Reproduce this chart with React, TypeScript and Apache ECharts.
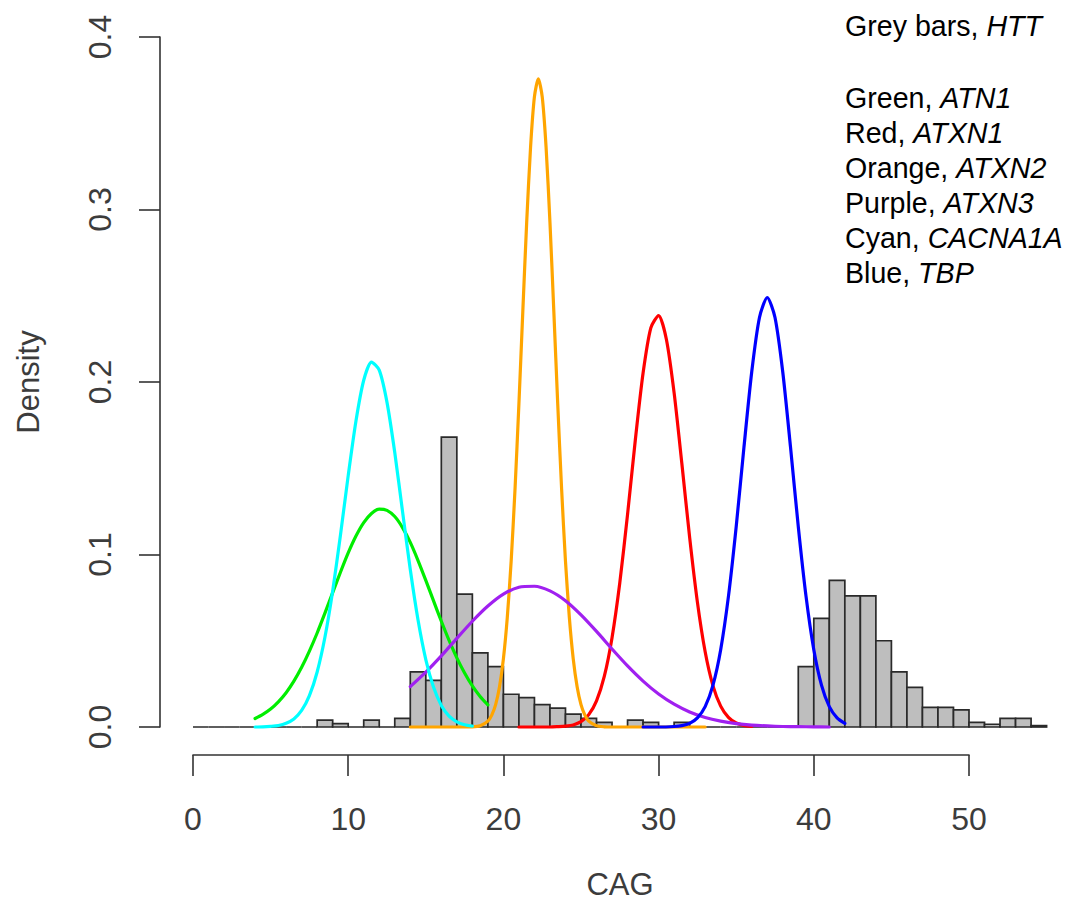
import React, { useEffect, useRef } from "react";
import * as echarts from "echarts";

// HTT histogram (grey bars): bin edges and densities
const httBreaks = [0,1,2,3,4,5,6,7,8,9,10,11,12,13,14,15,16,17,18,19,20,21,22,23,24,25,26,27,28,29,30,31,32,33,34,35,36,37,38,39,40,41,42,43,44,45,46,47,48,49,50,51,52,53,54,55];
const httDensity = [0,0,0,0,0,0,0,0,0.004,0.002,0,0.004,0,0.005,0.032,0.027,0.168,0.077,0.043,0.035,0.019,0.017,0.013,0.011,0.0075,0.005,0.0027,0,0.004,0.0027,0,0.0027,0,0,0,0,0,0,0,0.035,0.063,0.085,0.076,0.076,0.05,0.032,0.023,0.0114,0.0114,0.0099,0.0027,0.0016,0.005,0.005,0.0008];

// Green, ATN1
const atn1X = [4,4.5,5,5.5,6,6.5,7,7.5,8,8.5,9,9.5,10,10.5,11,11.5,12,12.5,13,13.5,14,14.5,15,15.5,16,16.5,17,17.5,18,18.5,19];
const atn1Y = [0.0049,0.0073,0.0104,0.0146,0.0199,0.0266,0.0346,0.044,0.0545,0.066,0.0779,0.0897,0.1009,0.1107,0.1185,0.1238,0.1263,0.1256,0.122,0.1156,0.107,0.0965,0.085,0.0731,0.0613,0.0502,0.0401,0.0313,0.0238,0.0177,0.0128];

// Red, ATXN1
const atxn1X = [21,22,23,23.5,24,24.5,25,25.5,26,26.5,27,27.5,28,28.5,29,29.5,30,30.5,31,31.5,32,32.5,33,33.5,34,34.5,35,35.5,36];
const atxn1Y = [0,0,0,0.0002,0.0005,0.0012,0.0031,0.0072,0.0152,0.0293,0.0518,0.0836,0.1233,0.1664,0.2052,0.2314,0.2385,0.2248,0.1937,0.1526,0.1099,0.0724,0.0436,0.024,0.0121,0.0056,0.0023,0.0009,0.0003];

// Orange, ATXN2
const atxn2X = [14,15,16,17,18,18.5,19,19.25,19.5,19.75,20,20.25,20.5,20.75,21,21.25,21.5,21.75,22,22.25,22.5,22.75,23,23.25,23.5,23.75,24,24.25,24.5,24.75,25,25.25,25.5,26,26.5,27,28,29,30,31,32,33];
const atxn2Y = [0,0,0,0,0.0001,0.0007,0.0034,0.0069,0.013,0.0233,0.0395,0.0634,0.0961,0.1381,0.1874,0.2408,0.2925,0.3361,0.3654,0.3757,0.3654,0.3361,0.2925,0.2408,0.1874,0.1381,0.0961,0.0634,0.0395,0.0233,0.013,0.0069,0.0034,0.0007,0.0001,0,0,0,0,0,0,0];

// Purple, ATXN3
const atxn3X = [14,15,16,17,18,19,20,21,22,23,24,25,26,27,28,29,30,31,32,33,34,35,36,37,38,39,40,41];
const atxn3Y = [0.0234,0.0318,0.0412,0.0514,0.0613,0.0701,0.077,0.081,0.0816,0.0789,0.0732,0.065,0.0554,0.0452,0.0354,0.0266,0.0191,0.0132,0.0087,0.0055,0.0034,0.002,0.0011,0.0006,0.0003,0.0002,0.0001,0];

// Cyan, CACNA1A
const cacna1aX = [4,4.5,5,5.5,6,6.5,7,7.5,8,8.5,9,9.5,10,10.5,11,11.5,12,12.5,13,13.5,14,14.5,15,15.5,16,16.5,17,17.5,18];
const cacna1aY = [0,0.0001,0.0004,0.0009,0.0022,0.0047,0.0096,0.0182,0.0319,0.052,0.0789,0.1112,0.1457,0.1774,0.201,0.2115,0.2069,0.1882,0.1591,0.125,0.0913,0.062,0.0391,0.023,0.0125,0.0063,0.003,0.0013,0.0005];

// Blue, TBP
const tbpX = [29,30,31,31.5,32,32.5,33,33.5,34,34.5,35,35.5,36,36.5,37,37.5,38,38.5,39,39.5,40,40.5,41,41.5,42];
const tbpY = [0,0,0.0003,0.0008,0.0021,0.0053,0.0118,0.0241,0.0448,0.0757,0.1162,0.1622,0.2058,0.2374,0.249,0.2374,0.2058,0.1622,0.1162,0.0757,0.0448,0.0241,0.0118,0.0053,0.0021];

const xTicks = { min: 0, max: 50, interval: 10 };
const yTicks = { min: 0, max: 0.4, interval: 0.1 };

const legendLines = [
  { label: "Grey bars, ", gene: "HTT" },
  { label: "Green, ", gene: "ATN1" },
  { label: "Red, ", gene: "ATXN1" },
  { label: "Orange, ", gene: "ATXN2" },
  { label: "Purple, ", gene: "ATXN3" },
  { label: "Cyan, ", gene: "CACNA1A" },
  { label: "Blue, ", gene: "TBP" },
];
const legendY = [27, 99, 134, 169, 204, 239, 274];

const curves = [
  { name: "ATN1", color: "#00ee00", x: atn1X, y: atn1Y },
  { name: "ATXN1", color: "#ff0000", x: atxn1X, y: atxn1Y },
  { name: "ATXN2", color: "#ffa500", x: atxn2X, y: atxn2Y },
  { name: "ATXN3", color: "#a020f0", x: atxn3X, y: atxn3Y },
  { name: "CACNA1A", color: "#00ffff", x: cacna1aX, y: cacna1aY },
  { name: "TBP", color: "#0000ff", x: tbpX, y: tbpY },
];

const FONT = "'Liberation Sans', Arial, Helvetica, sans-serif";
const AXIS_COLOR = "#333333";
const LABEL_COLOR = "#3c3c3c";

export default function App() {
  const ref = useRef<HTMLDivElement>(null);
  useEffect(() => {
    if (!ref.current) return;
    const chart = echarts.init(ref.current, undefined, { renderer: "svg" });
    const histData = httDensity.map((d, i) => [httBreaks[i], httBreaks[i + 1], d]);
    const option: any = {
      animation: false,
      backgroundColor: "#ffffff",
      grid: { left: 193, top: 37, width: 776, height: 690 },
      xAxis: {
        type: "value",
        min: xTicks.min,
        max: xTicks.max,
        interval: xTicks.interval,
        offset: 28,
        name: "CAG",
        nameLocation: "middle",
        nameGap: 114,
        nameTextStyle: { fontSize: 31, color: LABEL_COLOR, fontFamily: FONT, padding: [0, 0, 0, 78] },
        axisLine: { show: true, onZero: false, lineStyle: { color: AXIS_COLOR, width: 1.6 } },
        axisTick: { show: true, length: 21, lineStyle: { color: AXIS_COLOR, width: 1.6 } },
        axisLabel: { fontSize: 32, color: LABEL_COLOR, fontFamily: FONT, margin: 48 },
        splitLine: { show: false },
      },
      yAxis: {
        type: "value",
        min: yTicks.min,
        max: yTicks.max,
        interval: yTicks.interval,
        offset: 33,
        name: "Density",
        nameLocation: "middle",
        nameRotate: 90,
        nameGap: 116,
        nameTextStyle: { fontSize: 31, color: LABEL_COLOR, fontFamily: FONT },
        axisLine: { show: true, onZero: false, lineStyle: { color: AXIS_COLOR, width: 1.6 } },
        axisTick: { show: true, length: 21, lineStyle: { color: AXIS_COLOR, width: 1.6 } },
        axisLabel: {
          fontSize: 32,
          color: LABEL_COLOR,
          fontFamily: FONT,
          rotate: 90,
          margin: 44,
          formatter: (v: number) => v.toFixed(1),
        },
        splitLine: { show: false },
      },
      series: [
        {
          type: "custom",
          name: "HTT",
          clip: false,
          data: histData,
          encode: { x: [0, 1], y: 2 },
          renderItem: (_params: any, api: any) => {
            const p0 = api.coord([api.value(0), 0]);
            const p1 = api.coord([api.value(1), api.value(2)]);
            return {
              type: "polygon",
              shape: {
                points: [
                  [p0[0], p0[1]],
                  [p1[0], p0[1]],
                  [p1[0], p1[1]],
                  [p0[0], p1[1]],
                ],
              },
              style: { fill: "#bebebe", stroke: "#2a2a2a", lineWidth: 1.7 },
            };
          },
        },
        ...curves.map((c) => ({
          type: "line",
          name: c.name,
          clip: false,
          showSymbol: false,
          smooth: 0.25,
          data: c.x.map((xv, i) => [xv, c.y[i]]),
          lineStyle: { color: c.color, width: 3.2, join: "round", cap: "round" },
          itemStyle: { color: c.color },
        })),
      ],
      graphic: legendLines.map((l, i) => ({
        type: "text",
        left: 845,
        top: legendY[i] - 16,
        style: {
          text: `${l.label}{i|${l.gene}}`,
          fontSize: 28.6,
          fontFamily: FONT,
          fill: "#000000",
          rich: { i: { fontStyle: "italic", fontSize: 28.6, fontFamily: FONT, color: "#000000" } },
        },
      })),
    };
    chart.setOption(option);
    return () => chart.dispose();
  }, []);
  return (
    <div
      ref={ref}
      style={{ position: "fixed", left: 0, top: 0, width: 1071, height: 909, background: "#fff" }}
    />
  );
}
